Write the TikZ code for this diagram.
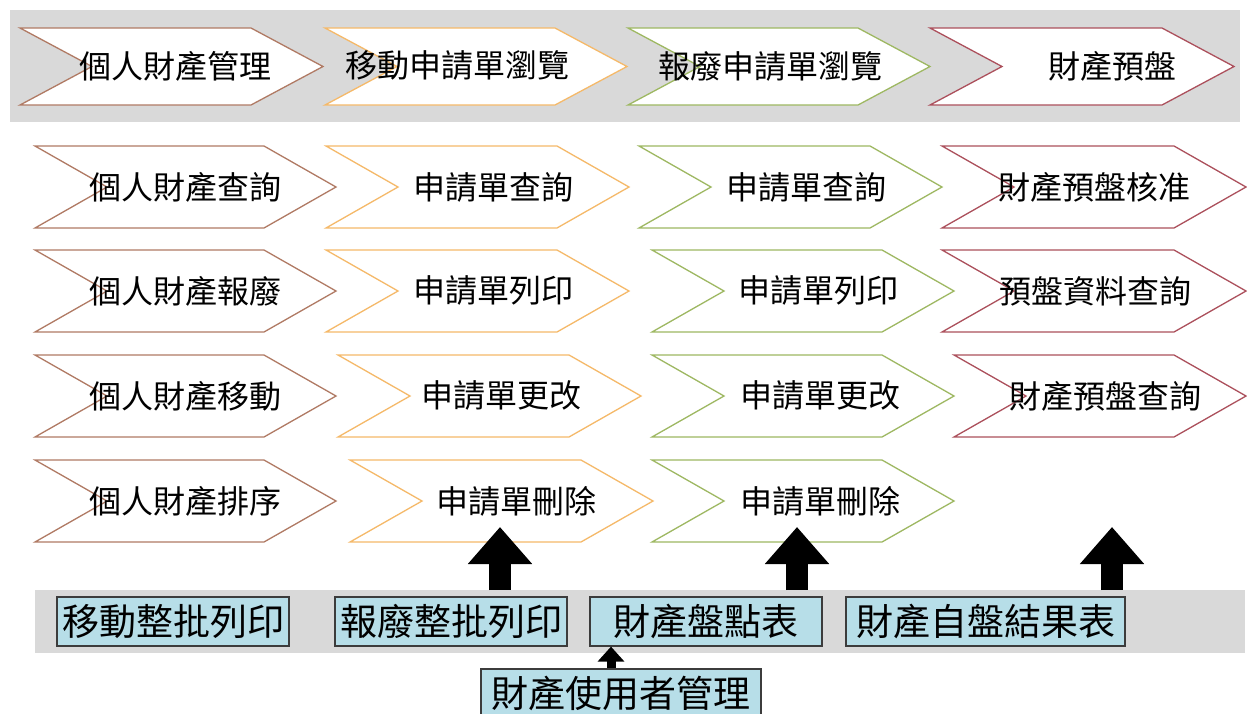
\documentclass[tikz,border=0pt]{standalone}
\usepackage{fontspec}
\setmainfont{Noto Sans CJK TC}
\usetikzlibrary{arrows.meta}
\definecolor{cbrown}{RGB}{176,122,100}
\definecolor{corange}{RGB}{245,185,105}
\definecolor{cgreen}{RGB}{158,184,98}
\definecolor{cred}{RGB}{172,80,92}
\definecolor{bandgray}{RGB}{217,217,217}
\definecolor{boxblue}{RGB}{183,222,232}
\definecolor{boxline}{RGB}{60,60,60}
\tikzset{
  chevline/.style={fill=white,line width=1.3pt,line join=miter},
  chevtext/.style={font=\fontsize{32}{34}\selectfont,inner sep=0pt,text=black},
  bluebox/.style={draw=boxline,fill=boxblue,line width=1.2pt,inner sep=0pt,minimum height=49pt,font=\fontsize{37}{39}\selectfont,text=black},
  bigarrow/.style={line width=22pt,-{Triangle[width=62pt,length=37pt]}},
  smallarrow/.style={line width=9pt,-{Triangle[width=26pt,length=15pt]}}
}
% #1 name, #2 left x, #3 tip x, #4 centre y, #5 half height, #6 colour
\newcommand{\chev}[6]{%
  \draw[chevline,draw=#6] (#2,#4-#5) -- (#3-72,#4-#5) -- (#3,#4) -- (#3-72,#4+#5) -- (#2,#4+#5) -- (#2+72,#4) -- cycle;
  \coordinate (#1) at ({(#2+#3)/2},#4);}
\begin{document}
\begin{tikzpicture}[x=1pt,y=-1pt]
\useasboundingbox (0,0) rectangle (1247,713);
\clip (0,0) rectangle (1247,713);
\fill[white] (0,0) rectangle (1247,713);
% bands
\node[fill=bandgray,inner sep=0pt,minimum width=1230pt,minimum height=112pt] (topband) at (625,66) {};
\node[fill=bandgray,inner sep=0pt,minimum width=1210pt,minimum height=63pt] (botband) at (640,621.5) {};
% top chevrons
\chev{t1}{20}{323}{66.5}{38.5}{cbrown}
\chev{t2}{325}{627}{66.5}{38.5}{corange}
\chev{t3}{628}{930}{66.5}{38.5}{cgreen}
\chev{t4}{930}{1234}{66.5}{38.5}{cred}
% row 1
\chev{r1a}{35}{336}{187}{41}{cbrown}
\chev{r1b}{326}{629}{187}{41}{corange}
\chev{r1c}{639}{942}{187}{41}{cgreen}
\chev{r1d}{942}{1246}{187}{41}{cred}
% row 2
\chev{r2a}{35}{336}{291}{41}{cbrown}
\chev{r2b}{326}{629}{291}{41}{corange}
\chev{r2c}{652}{954}{291}{41}{cgreen}
\chev{r2d}{942}{1246}{291}{41}{cred}
% row 3
\chev{r3a}{35}{336}{396}{41}{cbrown}
\chev{r3b}{338}{641}{396}{41}{corange}
\chev{r3c}{652}{954}{396}{41}{cgreen}
\chev{r3d}{954}{1246}{396}{41}{cred}
% row 4
\chev{r4a}{35}{336}{501}{41}{cbrown}
\chev{r4b}{350}{653}{501}{41}{corange}
\chev{r4c}{652}{954}{501}{41}{cgreen}
% texts
\node[chevtext] (tt1) at (175,66) {個人財產管理};
\node[chevtext] (tt2) at (457,66) {移動申請單瀏覽};
\node[chevtext] (tt3) at (770,66) {報廢申請單瀏覽};
\node[chevtext] (tt4) at (1112,66) {財產預盤};
\node[chevtext] (x1a) at (185,187) {個人財產查詢};
\node[chevtext] (x1b) at (493,187) {申請單查詢};
\node[chevtext] (x1c) at (806,187) {申請單查詢};
\node[chevtext] (x1d) at (1094,187) {財產預盤核准};
\node[chevtext] (x2a) at (185,291) {個人財產報廢};
\node[chevtext] (x2b) at (493,291) {申請單列印};
\node[chevtext] (x2c) at (818,291) {申請單列印};
\node[chevtext] (x2d) at (1095,291) {預盤資料查詢};
\node[chevtext] (x3a) at (185,396) {個人財產移動};
\node[chevtext] (x3b) at (501,396) {申請單更改};
\node[chevtext] (x3c) at (820,396) {申請單更改};
\node[chevtext] (x3d) at (1105,396) {財產預盤查詢};
\node[chevtext] (x4a) at (185,501) {個人財產排序};
\node[chevtext] (x4b) at (516,501) {申請單刪除};
\node[chevtext] (x4c) at (820,501) {申請單刪除};
% boxes
\node[bluebox,minimum width=232pt] (b1) at (173,621.5) {移動整批列印};
\node[bluebox,minimum width=232pt] (b2) at (451,621.5) {報廢整批列印};
\node[bluebox,minimum width=232pt] (b3) at (706,621.5) {財產盤點表};
\node[bluebox,minimum width=279pt] (b4) at (985.5,621.5) {財產自盤結果表};
\node[bluebox,minimum width=280pt] (b5) at (621,693.5) {財產使用者管理};
% arrows
\coordinate (a1s) at (500,590); \coordinate (a1e) at (500,527);
\coordinate (a2s) at (797,590); \coordinate (a2e) at (797,527);
\coordinate (a3s) at (1112,590); \coordinate (a3e) at (1112,527);
\draw[bigarrow] (a1s) -- (a1e);
\draw[bigarrow] (a2s) -- (a2e);
\draw[bigarrow] (a3s) -- (a3e);
\draw[smallarrow] (b5.north -| 611,0) -- (b3.south -| 611,0);
\end{tikzpicture}
\end{document}
